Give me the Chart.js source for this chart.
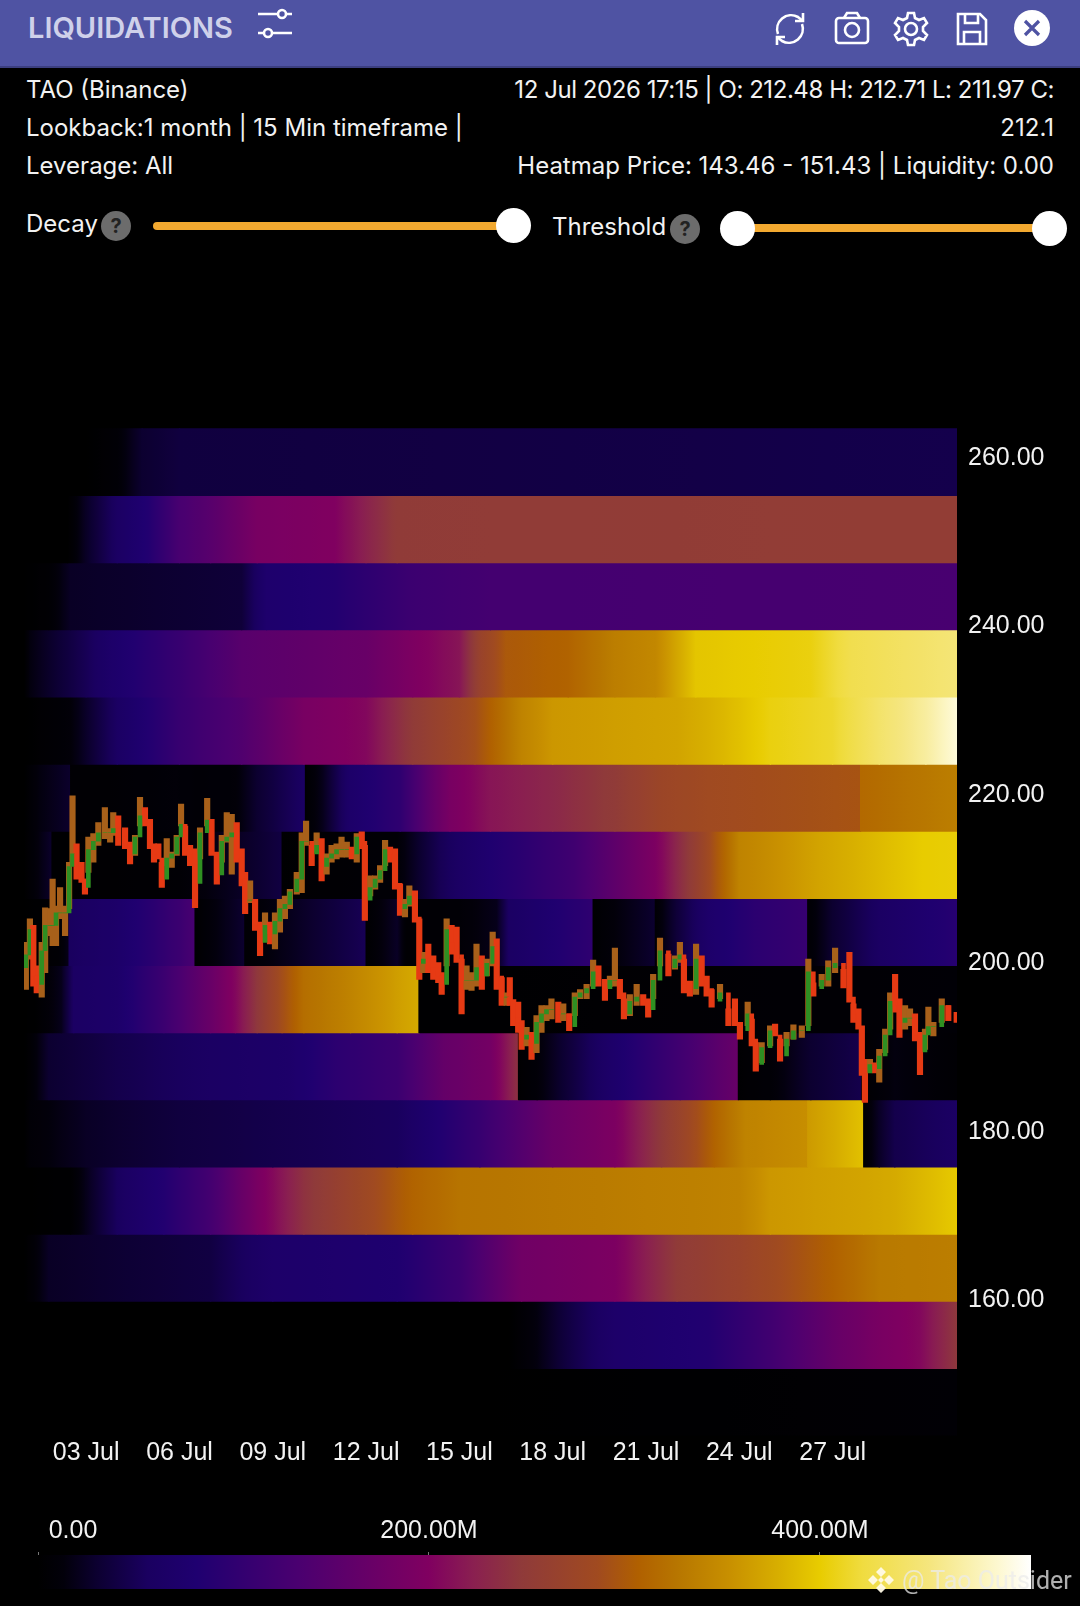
<!DOCTYPE html>
<html lang="en">
<head>
  <meta charset="UTF-8">
  <title>Liquidations</title>
  <script src="https://cdn.jsdelivr.net/npm/chart.js"></script>
  <style>
    html, body { margin: 0; padding: 0; background: #000; }
    #page { position: relative; width: 1080px; height: 1606px; overflow: hidden; background: #000; color: #f2f2f2; font-family: Inter, sans-serif; }
    #page canvas { position: absolute; left: 0; }
    .bar { position: absolute; left: 0; top: 0; width: 1080px; height: 68px; background: #4f53a3; border-bottom: 2px solid #3c3f80; box-sizing: border-box; }
    .title { position: absolute; left: 28px; top: 10px; font: 600 29px Inter, sans-serif; color: #cfd1ea; }
    .info { position: absolute; font-size: 24px; line-height: 30px; white-space: nowrap; }
    .right { right: 26px; text-align: right; }
    .track { position: absolute; height: 8px; border-radius: 4px; background: #f2a930; }
    .thumb { position: absolute; width: 35px; height: 35px; border-radius: 50%; background: #fff; }
    .help { position: absolute; width: 30px; height: 30px; border-radius: 50%; background: #6c6c6c; color: #222; font: 700 20px/30px Inter, sans-serif; text-align: center; }
    svg.icon { position: absolute; fill: none; stroke: #fff; stroke-width: 2.6; }
    .mark { position: absolute; left: 902px; top: 1566px; font: 25px Roboto, sans-serif; color: rgba(235,235,235,0.75); white-space: nowrap; }
  </style>
</head>
<body>
<div id="page">
  <div class="bar"></div>
  <div class="title">LIQUIDATIONS</div>
  <svg class="icon" style="left:256px;top:8px" width="38" height="32" viewBox="0 0 38 32"><path d="M2 6h20M30 6h6M2 25h6M16 25h20"/><circle cx="26" cy="6" r="4"/><circle cx="12" cy="25" r="4"/></svg>
  <svg class="icon" style="left:772px;top:10px" width="36" height="38" viewBox="0 0 36 38"><path d="M6 24a14 14 0 0 1 20-17l5 4M30 14a14 14 0 0 1-20 17l-5-4"/><path d="M31 3v8h-8M5 35v-8h8"/></svg>
  <svg class="icon" style="left:834px;top:11px" width="36" height="34" viewBox="0 0 36 34"><rect x="2" y="7" width="32" height="25" rx="3"/><path d="M10 7l3-5h10l3 5"/><circle cx="18" cy="19" r="7"/></svg>
  <svg class="icon" style="left:893px;top:11px" width="36" height="36" viewBox="0 0 36 36"><circle cx="18" cy="18" r="6"/><path d="M15 2h6l1 5 4 2 5-2 3 5-4 4v4l4 4-3 5-5-2-4 2-1 5h-6l-1-5-4-2-5 2-3-5 4-4v-4l-4-4 3-5 5 2 4-2z"/></svg>
  <svg class="icon" style="left:956px;top:12px" width="32" height="34" viewBox="0 0 32 34"><path d="M2 2h22l6 6v24H2z"/><path d="M9 2v9h13V2M8 32V20h16v12"/></svg>
  <svg style="position:absolute;left:1014px;top:10px" width="36" height="36" viewBox="0 0 36 36"><circle cx="18" cy="18" r="18" fill="#fff"/><path d="M11 11l14 14M25 11L11 25" stroke="#4f53a3" stroke-width="3.2" fill="none"/></svg>

  <div class="info" style="left:26px;top:75px">TAO (Binance)</div>
  <div class="info" style="left:26px;top:113px">Lookback:1 month | 15 Min timeframe |</div>
  <div class="info" style="left:26px;top:151px">Leverage: All</div>
  <div class="info right" style="top:75px;letter-spacing:-0.44px">12 Jul 2026 17:15 | O: 212.48 H: 212.71 L: 211.97 C:</div>
  <div class="info right" style="top:113px">212.1</div>
  <div class="info right" style="top:151px">Heatmap Price: 143.46 - 151.43 | Liquidity: 0.00</div>

  <div class="info" style="left:26px;top:209px">Decay</div>
  <div class="help" style="left:101px;top:211px">?</div>
  <div class="track" style="left:153px;top:222px;width:350px"></div>
  <div class="thumb" style="left:496px;top:208px"></div>
  <div class="info" style="left:552px;top:212px">Threshold</div>
  <div class="help" style="left:670px;top:214px">?</div>
  <div class="track" style="left:738px;top:224px;width:312px"></div>
  <div class="thumb" style="left:720px;top:211px"></div>
  <div class="thumb" style="left:1032px;top:211px"></div>

  <canvas id="heatmap" width="1080" height="1100" style="top:400px"></canvas>
  <canvas id="colorbar" width="1080" height="106" style="top:1500px"></canvas>

  <svg style="position:absolute;left:867px;top:1566px" width="28" height="28" viewBox="0 0 28 28" fill="rgba(255,250,230,0.95)"><path d="M14 1l5 5-5 5-5-5zM14 17l5 5-5 5-5-5zM6 9l5 5-5 5-5-5zM22 9l5 5-5 5-5-5zM14 11l3 3-3 3-3-3z"/></svg>
  <div class="mark">@ Tao Outsider</div>
</div>

<script>
  // colour scale (liquidity in millions)
  const scaleValues = [0, 13, 30, 56, 81, 107, 133, 166, 200, 223, 247, 286, 307, 329, 354, 380, 400, 422, 457, 491, 508];
  const scaleColors = ['#000000', '#02000a', '#0c0030', '#1a0060', '#1f0070', '#350070', '#4a0070', '#650068', '#800060', '#8a2050', '#8f3a3a', '#a04a20', '#b06000', '#b87800', '#c89000', '#d8b000', '#e8cc00', '#f0dc40', '#f5e680', '#fdf8d0', '#ffffff'];
  const scaleMax = 508;
  const scaleTicks = [0, 200, 400];
  const scaleTickLabels = ['0.00', '200.00M', '400.00M'];

  const xTickDays = [3, 6, 9, 12, 15, 18, 21, 24, 27];
  const xTickLabels = ['03 Jul', '06 Jul', '09 Jul', '12 Jul', '15 Jul', '18 Jul', '21 Jul', '24 Jul', '27 Jul'];
  const yTicks = [160, 180, 200, 220, 240, 260];

  // heatmap price bands, each one [day, liquidity] along time
  const bandStep = 7.97;
  const bandLows = [143.46, 151.43, 159.4, 167.37, 175.34, 183.31, 191.28, 199.25, 207.22, 215.19, 223.16, 231.13, 239.1, 247.07, 255.04];
  const band143 = [[1,0],[16,0],[31,6]];
  const band151 = [[1,0],[16.6,0],[17.5,15],[18.5,40],[20,70],[23,85],[25,120],[27,165],[28.5,190],[29.8,205],[31,245]];
  const band159 = [[1,0],[1.2,5],[1.8,25],[7,40],[9,70],[13,80],[15,115],[17,180],[20,195],[22,250],[24,270],[26,295],[27.5,315],[28.5,330],[31,335]];
  const band167 = [[1,0],[2.5,3],[3,20],[4,55],[5.5,85],[7,125],[8.5,190],[10,240],[12,280],[13.5,310],[15,325],[24,340],[25,360],[28,370],[29,375],[31,398]];
  const band175 = [[1,0],[1.2,8],[3,25],[6,38],[9,45],[13,55],[15.66,110],[18,170],[20,195],[21.5,248],[23.2,310],[24.2,340],[26.2,352],[26.2,362],[28,392],[28,3],[28.5,25],[29,45],[31,60]];
  const band183 = [[1,0],[1.2,5],[1.8,30],[4,45],[7,60],[9.5,70],[11,95],[13,115],[14.5,165],[16,185],[16.9,240],[16.9,3],[17.5,10],[18.5,35],[19.9,70],[22.1,120],[23.97,170],[23.97,3],[25,8],[26.3,30],[27.94,45],[27.94,2],[29,15],[31,5]];
  const band191 = [[1,0],[1.4,2],[2.2,20],[2.6,60],[4,70],[5.5,115],[7,170],[7.8,205],[8.5,245],[9.3,290],[10,320],[11.5,340],[13,365],[13.7,375],[13.7,2],[31,8]];
  const band199 = [[1,0],[2.1,6],[2.45,20],[2.45,55],[4,70],[5,90],[6,115],[6.5,130],[6.5,3],[7.5,20],[8.1,30],[8.1,5],[9.9,25],[12,50],[12,3],[13,25],[13.3,5],[15,8],[16.2,20],[16.6,60],[18,80],[19.3,100],[19.3,3],[21.3,30],[21.3,5],[22,35],[23,70],[24.5,95],[26.2,110],[26.2,5],[27,30],[28.5,60],[31,90]];
  const band207 = [[1,0],[1.9,28],[1.9,2],[6,6],[8.5,30],[9.3,40],[9.3,3],[13,8],[14.4,50],[16,80],[18.7,120],[21.3,195],[22.6,260],[24,340],[26.6,370],[29.9,400],[31,402]];
  const band215 = [[1,0],[1.5,15],[2.5,28],[2.5,5],[3.3,5],[5.9,10],[6.6,8],[7.8,10],[8.5,30],[10.05,60],[10.05,3],[10.6,20],[11.5,70],[13.1,100],[14,155],[14.7,190],[16,215],[18,230],[20,250],[21.5,275],[23,285],[27.9,295],[27.9,315],[31,335]];
  const band223 = [[1,0],[2.5,10],[4,60],[6,110],[8,140],[10,190],[12,205],[13.5,250],[15.5,290],[17,340],[18,360],[22,370],[23.5,385],[25,405],[27,415],[28.5,445],[30,470],[31,495]];
  const band231 = [[1,0],[1.2,15],[3,50],[3.8,70],[6,110],[8,150],[12,170],[13.5,195],[15,215],[15.7,270],[16.5,300],[18.5,310],[20,335],[21.3,345],[22.6,395],[26.3,405],[27.6,430],[31,452]];
  const band239 = [[1,0],[1.8,5],[2.5,25],[8,35],[8.8,75],[11,85],[13.4,115],[16,125],[31,130]];
  const band247 = [[1,0],[2.4,0],[3,25],[4,60],[5,85],[6,130],[7,150],[8.5,190],[11,200],[12,225],[13,250],[31,255]];
  const band255 = [[1,0],[3,0],[4,8],[4.8,30],[6,38],[31,45]];
  const bands = [band143, band151, band159, band167, band175, band183, band191, band199, band207, band215, band223, band231, band239, band247, band255];

  // price, sampled from 15 min candles
  const candleDay = [1.06,1.19,1.30,1.41,1.57,1.68,1.84,1.92,2.03,2.16,2.32,2.45,2.56,2.69,2.85,2.96,3.07,3.23,3.39,3.60,3.77,3.87,4.03,4.25,4.41,4.57,4.73,4.89,5.05,5.18,5.32,5.43,5.59,5.75,5.91,6.05,6.18,6.34,6.50,6.66,6.89,7.03,7.20,7.36,7.52,7.68,7.84,8.00,8.11,8.27,8.43,8.59,8.75,8.91,9.07,9.23,9.39,9.55,9.77,9.93,10.07,10.25,10.41,10.57,10.73,10.89,11.05,11.21,11.38,11.54,11.70,11.86,11.96,12.13,12.29,12.45,12.61,12.77,12.93,13.09,13.25,13.39,13.57,13.71,13.84,14.00,14.16,14.32,14.43,14.59,14.75,14.91,15.07,15.23,15.39,15.55,15.72,15.88,16.07,16.20,
    16.36,16.52,16.62,16.73,16.89,17.00,17.16,17.32,17.48,17.64,17.80,17.96,18.18,18.34,18.53,18.71,18.88,19.09,19.30,19.47,19.68,19.84,20.00,20.16,20.29,20.48,20.70,20.91,21.07,21.23,21.45,21.72,21.93,22.09,22.22,22.41,22.61,22.79,22.95,23.11,23.38,23.65,23.86,24.02,24.27,24.40,24.53,24.72,24.99,25.15,25.31,25.52,25.74,26.01,26.22,26.38,26.65,26.86,27.08,27.35,27.54,27.67,27.83,27.94,28.04,28.20,28.36,28.50,28.69,28.85,29.01,29.15,29.33,29.49,29.65,29.81,29.97,30.08,30.24,30.51,30.72,30.99];
  const candleHigh = [202.0,204.8,204.0,199.2,202.0,206.1,206.0,209.5,206.3,208.5,206.3,211.5,219.4,213.7,211.5,209.5,214.5,214.9,216.2,218.0,215.5,217.4,217.0,215.6,213.9,214.7,219.2,218.0,216.6,213.7,213.7,211.5,214.3,212.7,214.7,218.4,215.8,213.5,213.1,215.6,219.1,216.6,212.7,214.7,217.4,217.2,216.2,213.1,210.3,209.3,207.1,204.4,205.5,204.4,205.5,207.1,207.5,208.3,210.3,215.0,216.4,213.5,215.0,214.3,212.5,213.5,213.7,214.5,213.9,213.3,214.9,215.1,213.5,209.9,209.9,211.1,214.1,213.3,213.1,208.9,207.1,208.7,208.1,204.8,200.8,201.8,200.4,199.6,198.4,204.8,204.0,203.8,200.0,199.2,198.4,201.8,200.4,200.0,203.2,202.4,
    197.8,196.0,197.8,195.2,194.9,192.7,191.9,191.3,193.3,194.5,194.5,195.3,194.9,194.7,193.5,196.0,196.4,197.0,199.9,199.2,197.6,198.0,201.3,197.6,195.3,195.8,197.0,195.8,195.3,198.2,202.5,200.6,200.4,202.0,200.0,197.4,201.8,200.4,198.0,196.4,197.0,194.1,195.3,192.5,194.9,192.9,190.1,190.1,192.1,192.3,190.5,191.3,192.2,192.1,200.0,197.2,198.2,199.8,201.3,198.8,200.8,194.7,194.1,192.1,188.1,188.1,187.7,189.3,191.7,196.0,198.2,195.3,194.5,194.1,193.5,191.3,191.7,194.3,192.5,195.3,194.5,193.7];
  const candleLow = [196.4,200.0,196.8,196.0,195.5,198.4,202.8,201.6,201.6,204.8,202.8,206.0,211.5,209.5,209.1,207.7,210.3,211.5,213.5,214.3,213.9,214.7,213.5,213.1,211.3,212.3,215.8,215.8,213.1,211.5,211.9,208.5,211.1,210.9,212.3,215.8,212.3,211.1,206.1,211.9,215.8,212.3,208.9,211.5,213.9,210.1,211.5,208.7,205.4,206.7,203.4,200.4,203.2,201.8,201.2,203.2,204.8,206.0,207.7,207.9,213.5,211.1,212.7,209.3,210.1,211.5,211.9,212.1,212.1,211.9,211.5,213.1,204.6,207.5,208.3,209.1,211.1,211.5,208.3,205.2,205.0,206.3,204.4,197.6,198.4,198.4,197.6,197.2,195.8,199.2,200.6,199.6,193.5,196.4,196.3,196.8,196.4,198.0,199.2,196.4,
    194.5,194.5,194.5,192.1,191.3,189.3,189.7,188.1,188.9,191.3,192.7,192.9,192.5,192.7,191.5,193.3,195.3,195.3,196.8,196.8,195.1,196.8,196.8,195.3,192.9,193.3,194.5,194.5,193.1,195.3,199.2,198.0,198.8,199.6,196.0,195.6,195.8,196.8,195.6,194.3,195.3,192.1,192.1,190.5,192.1,189.7,186.7,187.7,189.7,190.9,187.9,189.7,190.5,190.7,192.1,195.6,196.8,196.8,198.4,196.6,194.9,192.5,191.7,186.2,183.0,186.7,186.5,185.4,188.9,191.7,193.7,190.7,191.7,192.1,190.3,186.3,189.3,191.3,190.9,192.5,192.7,192.5];
  const candleClose = [200.5,203.5,198,197,201,204,204,204,205.5,205.5,205.5,211,212.5,211,209.5,208.5,213,214,215,215,215,215.5,214.5,213.5,212.5,214.5,217,216.5,213.5,212.5,212,209.5,212,212.5,214.5,216,213,212.5,209,215,216.5,212.5,210,214,214.5,215,212,209.5,207,207,204,202,204,203,204.5,206,206.5,208,209.5,214,214,212.5,213.5,211,212,212.5,213,213,213,212.5,214.5,214,207,208.5,209.5,210.5,213,212.5,209,206,206.5,207.5,205,199.5,200,199,198.5,198,197,203.5,202,200.5,197.5,197.5,197.5,199,198,199.5,201.5,198,
    195.5,195.5,195,193,192.5,190.5,191,190,192.5,193.5,194,194,193.5,193.5,192,195.5,196,196.5,198.5,197.5,196.5,197.5,197.5,196,193.5,195,195.5,195,194,197.5,201,199,200,200.5,197,196.5,200,197.5,196.5,195,196,193,192.5,191.5,193.5,190.5,187.5,189.5,191.5,191,188.5,190.5,191.5,191.5,198.5,196.5,197.5,199,199.5,198,195.5,193.5,192,187,186.5,187.5,187,188.5,191,195,194.5,192.5,193,193,191,189,191,192,192,194.5,193.5,193];
  const candleFirstOpen = 199;

  function hexToRgb(hex) {
    return [parseInt(hex.slice(1, 3), 16), parseInt(hex.slice(3, 5), 16), parseInt(hex.slice(5, 7), 16)];
  }

  function liqColor(v) {
    let i = 0;
    while (i < scaleValues.length - 2 && v > scaleValues[i + 1]) i++;
    const t = Math.max(0, Math.min(1, (v - scaleValues[i]) / (scaleValues[i + 1] - scaleValues[i])));
    const a = hexToRgb(scaleColors[i]);
    const b = hexToRgb(scaleColors[i + 1]);
    return `rgb(${a.map((c, k) => Math.round(c + (b[k] - c) * t)).join(',')})`;
  }

  // every cell fades from its left value to its right value
  function cellFill(ctx) {
    if (!ctx.raw) return '#000';
    const xScale = ctx.chart.scales.xHeat;
    const x0 = xScale.getPixelForValue(ctx.raw.x[0]);
    const x1 = xScale.getPixelForValue(ctx.raw.x[1]);
    // the legend plugin asks for a colour before the scales have a size
    if (!isFinite(x0) || !isFinite(x1)) return '#000';
    const g = ctx.chart.ctx.createLinearGradient(x0, 0, x1, 0);
    for (let k = 0; k <= 6; k++) {
      g.addColorStop(k / 6, liqColor(ctx.raw.v0 + (ctx.raw.v1 - ctx.raw.v0) * k / 6));
    }
    return g;
  }

  const heatCells = [];
  bands.forEach((band, b) => {
    for (let i = 0; i < band.length - 1; i++) {
      if (band[i + 1][0] > band[i][0]) {
        heatCells.push({ x: [band[i][0], band[i + 1][0]], y: bandLows[b] + bandStep / 2, v0: band[i][1], v1: band[i + 1][1] });
      }
    }
  });

  const candleWicks = [];
  const candleBodies = [];
  candleDay.forEach((day, i) => {
    const open = i === 0 ? candleFirstOpen : candleClose[i - 1];
    const up = candleClose[i] >= open;
    candleWicks.push({ x: day, y: [candleLow[i], candleHigh[i]], up });
    candleBodies.push({ x: day, y: [open, candleClose[i]], up });
  });

  const bodyColor = ctx => (ctx.raw && ctx.raw.up ? '#2f8f22' : '#e63a14');
  const wickColor = ctx => (ctx.raw && ctx.raw.up ? '#a8601a' : '#e63a14');
  const yRange = { min: 143.46, max: 263.01, offset: false };
  const xRange = { min: 1, max: 31, offset: false };
  const tickFont = { family: 'Liberation Sans', size: 25 };

  new Chart(document.getElementById('heatmap'), {
    type: 'bar',
    data: {
      datasets: [
        { label: 'Body', data: candleBodies, order: 0, xAxisID: 'x', yAxisID: 'yPrice', grouped: false, barThickness: 4, backgroundColor: bodyColor },
        { label: 'Wick', data: candleWicks, order: 1, xAxisID: 'x', yAxisID: 'yPrice', grouped: false, barThickness: 5.5, backgroundColor: wickColor },
        { label: 'Liquidity', data: heatCells, order: 2, indexAxis: 'y', xAxisID: 'xHeat', yAxisID: 'y', grouped: false, categoryPercentage: 1, barPercentage: 1, inflateAmount: 0.6, backgroundColor: cellFill }
      ]
    },
    options: {
      responsive: false,
      animation: false,
      devicePixelRatio: 1,
      layout: { padding: { left: 24, top: 28.3, right: 0, bottom: 0 } },
      plugins: { legend: { display: false }, tooltip: { enabled: false } },
      scales: {
        x: {
          type: 'linear', position: 'bottom', ...xRange,
          grid: { display: false }, border: { display: false },
          afterBuildTicks: axis => { axis.ticks = xTickDays.map(value => ({ value })); },
          afterFit: axis => { axis.height = 64.5; },
          ticks: {
            color: '#f2f2f2', font: tickFont, padding: -5, maxRotation: 0, autoSkip: false,
            callback: value => xTickLabels[xTickDays.indexOf(value)]
          }
        },
        y: {
          type: 'linear', position: 'right', ...yRange,
          grid: { display: false }, border: { display: false },
          afterBuildTicks: axis => { axis.ticks = yTicks.map(value => ({ value })); },
          afterFit: axis => { axis.width = 123; },
          ticks: { color: '#f2f2f2', font: tickFont, padding: 3, labelOffset: 4, callback: value => value.toFixed(2) }
        },
        xHeat: { type: 'linear', display: false, ...xRange },
        yPrice: { type: 'linear', display: false, ...yRange }
      }
    }
  });

  // colour scale bar under the chart
  new Chart(document.getElementById('colorbar'), {
    type: 'bar',
    data: {
      labels: ['Liquidity'],
      datasets: [{
        data: [[0, scaleMax]],
        categoryPercentage: 1,
        barPercentage: 1,
        backgroundColor: ctx => {
          const { chartArea } = ctx.chart;
          if (!chartArea) return '#000';
          const g = ctx.chart.ctx.createLinearGradient(chartArea.left, 0, chartArea.right, 0);
          scaleValues.forEach((v, i) => g.addColorStop(v / scaleMax, scaleColors[i]));
          return g;
        }
      }]
    },
    options: {
      indexAxis: 'y',
      responsive: false,
      animation: false,
      devicePixelRatio: 1,
      layout: { padding: { left: 38, right: 49, top: 52, bottom: 17 } },
      plugins: { legend: { display: false }, tooltip: { enabled: false } },
      scales: {
        x: {
          type: 'linear', position: 'top', min: 0, max: scaleMax, offset: false,
          border: { display: false },
          grid: { drawOnChartArea: false, tickLength: 3, color: '#777', offset: false },
          afterBuildTicks: axis => { axis.ticks = scaleTicks.map(value => ({ value })); },
          afterFit: axis => { axis.height = 3; },
          ticks: { display: false }
        },
        y: { display: false }
      }
    },
    plugins: [{
      id: 'scaleLabels',
      afterDraw(chart) {
        const c = chart.ctx;
        c.save();
        c.fillStyle = '#f2f2f2';
        c.font = '25px "Liberation Sans"';
        c.textAlign = 'center';
        c.textBaseline = 'middle';
        scaleTicks.forEach((v, i) => {
          // the first label sits right of its tick
          c.fillText(scaleTickLabels[i], chart.scales.x.getPixelForValue(v) + (i === 0 ? 35 : 0), 31);
        });
        c.restore();
      }
    }]
  });
</script>
</body>
</html>
